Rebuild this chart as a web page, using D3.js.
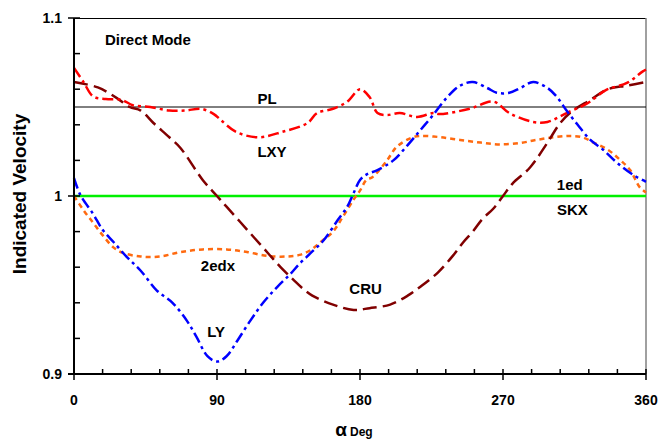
<!DOCTYPE html>
<html>
<head>
<meta charset="utf-8">
<script src="https://cdn.jsdelivr.net/npm/d3@7"></script>
<style>
  body { margin: 0; background: #fff; }
  text { font-family: Arial, "Liberation Sans", sans-serif; font-weight: bold; fill: #000; }
</style>
</head>
<body>
<div id="chart"></div>
<script>
// Angle / velocity readings
var lxyAngle = [0, 6, 12, 20, 30, 37, 48, 60, 70, 80, 88, 92, 102, 116, 131, 147, 153, 163, 172, 180, 186, 191, 197, 205, 216, 226, 230, 249, 264, 274, 289, 298, 310, 323, 335, 348, 358, 360]
var lxyValue = [1.072, 1.064, 1.056, 1.0545, 1.054, 1.051, 1.050, 1.048, 1.048, 1.049, 1.046, 1.043, 1.036, 1.033, 1.036, 1.041, 1.0466, 1.049, 1.053, 1.060, 1.0556, 1.0466, 1.0455, 1.0466, 1.0444, 1.0466, 1.046, 1.049, 1.053, 1.0466, 1.0416, 1.0416, 1.0466, 1.052, 1.0596, 1.0635, 1.07, 1.071]

var cruAngle = [0, 15, 27, 35, 42, 50, 60, 67, 81, 90, 96, 109, 122, 130, 138, 144, 150, 163, 176, 186, 199, 210, 218, 229, 239, 245, 251, 257, 264, 270, 276, 287, 298, 306, 314, 325, 336, 348, 360]
var cruValue = [1.064, 1.061, 1.055, 1.050, 1.048, 1.041, 1.033, 1.027, 1.009, 1.0, 0.994, 0.981, 0.968, 0.960, 0.953, 0.948, 0.944, 0.939, 0.936, 0.937, 0.939, 0.944, 0.949, 0.957, 0.967, 0.974, 0.980, 0.987, 0.993, 1.0, 1.007, 1.016, 1.030, 1.041, 1.048, 1.054, 1.060, 1.062, 1.064]

var lyAngle = [0, 4, 12, 18, 25, 33, 42, 52, 62, 71, 77, 84, 90, 96, 103, 111, 119, 128, 136, 142, 149, 157, 166, 172, 176, 180, 184, 191, 201, 210, 218, 226, 235, 243, 251, 260, 266, 274, 281, 289, 298, 304, 310, 317, 325, 333, 342, 352, 360]
var lyValue = [1.010, 1.0006, 0.990, 0.981, 0.974, 0.966, 0.958, 0.947, 0.940, 0.930, 0.921, 0.910, 0.907, 0.910, 0.919, 0.930, 0.940, 0.949, 0.956, 0.962, 0.968, 0.975, 0.9865, 0.994, 1.0017, 1.009, 1.012, 1.0146, 1.020, 1.0286, 1.037, 1.0455, 1.0556, 1.062, 1.064, 1.0607, 1.058, 1.058, 1.0607, 1.064, 1.0607, 1.0556, 1.048, 1.040, 1.0315, 1.026, 1.0185, 1.0118, 1.008]

var edxAngle = [0, 6, 12, 18, 25, 31, 42, 54, 67, 81, 96, 109, 122, 134, 142, 149, 155, 163, 169, 176, 180, 184, 188, 197, 203, 212, 218, 230, 243, 256, 268, 281, 291, 302, 312, 320, 327, 336, 344, 350, 356, 360]
var edxValue = [1.0, 0.992, 0.985, 0.978, 0.971, 0.968, 0.966, 0.966, 0.9685, 0.970, 0.970, 0.9685, 0.9663, 0.966, 0.9669, 0.9697, 0.974, 0.980, 0.988, 0.998, 1.003, 1.009, 1.0107, 1.020, 1.0275, 1.0326, 1.0337, 1.0331, 1.0315, 1.030, 1.029, 1.0298, 1.0315, 1.033, 1.0337, 1.033, 1.030, 1.026, 1.020, 1.0146, 1.005, 1.002]

var plValue = 1.05      // PL reference line
var skxValue = 1.0      // 1ed / SKX reference line

var xLabels = [0, 90, 180, 270, 360]
var yLabels = [0.9, 1, 1.1]

var width = 660, height = 440
var plotLeft = 74, plotRight = 646, plotTop = 18, plotBottom = 374

var x = d3.scaleLinear().domain([0, 360]).range([plotLeft, plotRight])
var y = d3.scaleLinear().domain([0.9, 1.1]).range([plotBottom, plotTop])

var svg = d3.select("#chart").append("svg")
  .attr("width", width)
  .attr("height", height)

// frame: top black, right grey
svg.append("line")
  .attr("x1", plotLeft).attr("x2", plotRight)
  .attr("y1", plotTop + 0.5).attr("y2", plotTop + 0.5)
  .style("stroke", "#000").style("stroke-width", 1)
svg.append("line")
  .attr("x1", plotRight).attr("x2", plotRight)
  .attr("y1", plotTop).attr("y2", plotBottom)
  .style("stroke", "#808080").style("stroke-width", 1.5)

// reference lines
svg.append("line")
  .attr("x1", x(0)).attr("x2", x(360))
  .attr("y1", y(plValue)).attr("y2", y(plValue))
  .style("stroke", "#000").style("stroke-width", 1)
svg.append("line")
  .attr("x1", x(0)).attr("x2", x(360))
  .attr("y1", y(skxValue)).attr("y2", y(skxValue))
  .style("stroke", "#00f000").style("stroke-width", 2.5)

var line = d3.line()
  .x(function(d) { return x(d[0]) })
  .y(function(d) { return y(d[1]) })
  .curve(d3.curveCatmullRom)

var series = [
  {a: edxAngle, v: edxValue, color: "#ff6a10", dash: "5,4", w: 2.5},
  {a: cruAngle, v: cruValue, color: "#800000", dash: "14,6", w: 2.5},
  {a: lxyAngle, v: lxyValue, color: "#ff0000", dash: "11,4,3,4", w: 2.5},
  {a: lyAngle, v: lyValue, color: "#0000ff", dash: "11,4,3,4", w: 2.5}
]

series.forEach(function(s) {
  var pts = s.a.map(function(a, i) { return [a, s.v[i]] })
  svg.append("path")
    .datum(pts)
    .attr("d", line)
    .style("fill", "none")
    .style("stroke", s.color)
    .style("stroke-width", s.w)
    .style("stroke-dasharray", s.dash)
})

// y axis
var yMinor = d3.range(0, 11).map(function(i) { return +(0.9 + i * 0.02).toFixed(2) })
var yAxisG = svg.append("g")
yAxisG.selectAll(".minor")
  .data(yMinor).enter()
  .append("line")
  .attr("x1", function(d) { return yLabels.indexOf(d) >= 0 ? plotLeft - 6 : plotLeft })
  .attr("x2", plotLeft + 6)
  .attr("y1", function(d) { return y(d) })
  .attr("y2", function(d) { return y(d) })
  .style("stroke", "#000").style("stroke-width", 1.5)
yAxisG.append("line")
  .attr("x1", plotLeft).attr("x2", plotLeft)
  .attr("y1", plotTop).attr("y2", plotBottom)
  .style("stroke", "#000").style("stroke-width", 2)
yAxisG.selectAll("text")
  .data(yLabels).enter()
  .append("text")
  .attr("x", plotLeft - 12)
  .attr("y", function(d) { return y(d) + 5 })
  .attr("text-anchor", "end")
  .style("font-size", "14px")
  .text(function(d) { return d })

// x axis
var xMinor = d3.range(0, 21).map(function(i) { return i * 18 })
var xAxisG = svg.append("g")
xAxisG.selectAll(".minor")
  .data(xMinor).enter()
  .append("line")
  .attr("x1", function(d) { return x(d) })
  .attr("x2", function(d) { return x(d) })
  .attr("y1", plotBottom - 5)
  .attr("y2", function(d) { return d % 90 === 0 ? plotBottom + 6 : plotBottom })
  .style("stroke", "#000").style("stroke-width", 1.5)
xAxisG.append("line")
  .attr("x1", plotLeft - 6).attr("x2", plotRight)
  .attr("y1", plotBottom).attr("y2", plotBottom)
  .style("stroke", "#000").style("stroke-width", 2)
xAxisG.selectAll("text")
  .data(xLabels).enter()
  .append("text")
  .attr("x", function(d) { return x(d) })
  .attr("y", plotBottom + 31)
  .attr("text-anchor", "middle")
  .style("font-size", "14px")
  .text(function(d) { return d })

// axis titles
svg.append("text")
  .attr("transform", "translate(26," + (y(1.0) - 2) + ") rotate(-90)")
  .attr("text-anchor", "middle")
  .style("font-size", "19px")
  .text("Indicated Velocity")

var xt = svg.append("text")
  .attr("x", 354)
  .attr("y", 436)
  .attr("text-anchor", "middle")
xt.append("tspan").style("font-size", "19px").text("α")
xt.append("tspan").style("font-size", "12px").attr("dx", 3).text("Deg")

// in-plot labels
var notes = [
  {t: "Direct Mode", a: 19.5, v: 1.0848},
  {t: "PL", a: 121.5, v: 1.0517},
  {t: "LXY", a: 124.6, v: 1.0219},
  {t: "2edx", a: 90.6, v: 0.9579},
  {t: "LY", a: 89.4, v: 0.9208},
  {t: "CRU", a: 183.5, v: 0.945},
  {t: "1ed", a: 312, v: 1.0034},
  {t: "SKX", a: 313.7, v: 0.9893}
]
svg.selectAll(".note")
  .data(notes).enter()
  .append("text")
  .attr("x", function(d) { return x(d.a) })
  .attr("y", function(d) { return y(d.v) })
  .attr("text-anchor", function(d) { return d.t === "Direct Mode" ? "start" : "middle" })
  .style("font-size", "15px")
  .text(function(d) { return d.t })
</script>
</body>
</html>
